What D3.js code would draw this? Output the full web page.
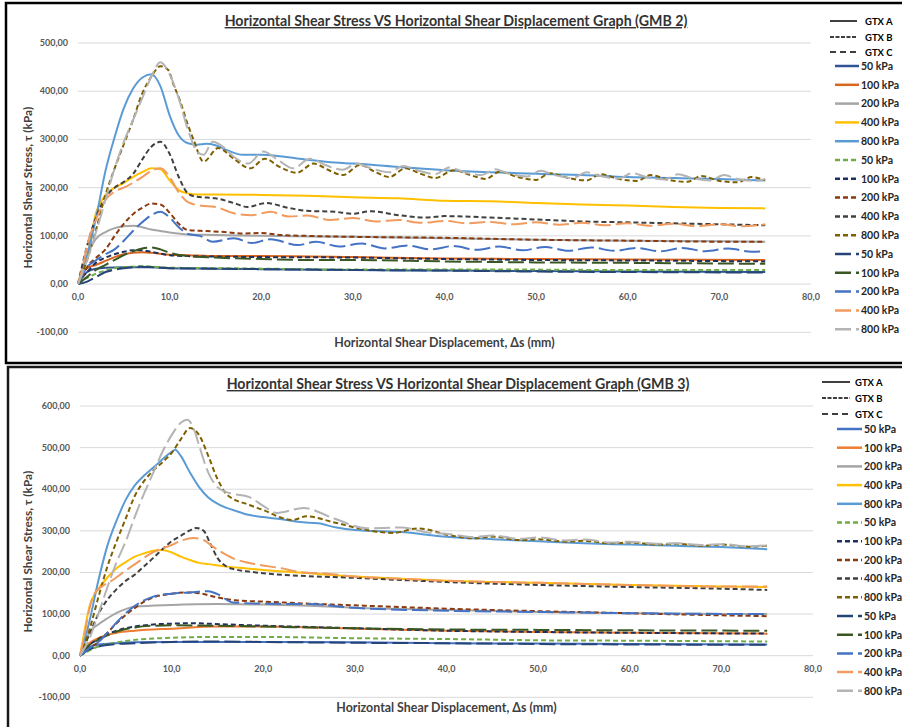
<!DOCTYPE html>
<html>
<head>
<meta charset="utf-8">
<script src="https://cdn.jsdelivr.net/npm/d3@7"></script>
<style>
  body { margin: 0; background: #fff; }
  text { font-family: Lato, "Open Sans", sans-serif; }
</style>
</head>
<body>
<div id="plot"></div>
<script>
// categories
const gtxNames = ["GTX A", "GTX B", "GTX C"];
const pressures = ["50 kPa", "100 kPa", "200 kPa", "400 kPa", "800 kPa"];
const xTicks = [0, 10, 20, 30, 40, 50, 60, 70, 80];
const yTicks2 = [-100, 0, 100, 200, 300, 400, 500];
const yTicks3 = [-100, 0, 100, 200, 300, 400, 500, 600];

// ---- GMB 2 : [displacement mm, stress kPa] ----
const gmb2A50 = [[0,0],[0.5,15],[1,25],[2,32],[3,34],[5,35],[8,35],[10,33],[15,32],[20,31],[30,29],[40,28],[50,27],[60,26],[75,25]];
const gmb2A100 = [[0,0],[0.5,25],[1,33],[2,40],[3,48],[4,56],[5,62],[6,65],[7,66],[8,65],[10,61],[12,60],[15,58],[20,58],[30,56],[40,53],[50,52],[60,51],[75,50]];
const gmb2A200 = [[0,0],[0.5,35],[1,60],[2,95],[3,108],[4,116],[5,120],[6,121],[7,118],[8,113],[9,110],[10,107],[12,103],[15,102],[20,100],[30,98],[40,95],[50,92],[60,90],[75,88]];
const gmb2A400 = [[0,0],[0.5,30],[1,60],[2,150],[3,185],[4,200],[5,210],[6,222],[7,232],[8,240],[9,238],[10,215],[11,195],[12,188],[13,186],[15,186],[20,185],[25,183],[30,180],[35,178],[40,173],[45,172],[50,168],[55,165],[60,163],[65,160],[70,158],[75,157]];
const gmb2A800 = [[0,0],[1,60],[2,140],[3,235],[4,305],[5,365],[6,405],[7,428],[8,435],[9,410],[10,350],[11,308],[12,292],[13,289],[14,291],[15,288],[16,280],[18,268],[20,268],[22,265],[25,258],[28,252],[30,250],[35,243],[40,236],[45,232],[50,229],[55,226],[60,222],[65,220],[70,218],[75,215]];
const gmb2B50 = [[0,0],[0.5,8],[1,13],[2,22],[3,28],[4,33],[5,35],[7,37],[10,34],[15,33],[20,32],[30,30],[40,30],[50,30],[60,29],[75,29]];
const gmb2B100 = [[0,0],[0.5,15],[1,25],[2,45],[3,55],[4,62],[5,67],[6,70],[7,70],[8,67],[10,60],[12,58],[15,57],[20,56],[30,55],[40,52],[50,50],[60,49],[75,47]];
const gmb2B200 = [[0,0],[0.5,15],[1,35],[2,55],[3,72],[4,100],[5,125],[6,145],[7,158],[8,167],[9,165],[10,148],[11,125],[12,112],[14,110],[16,108],[18,105],[20,106],[22,102],[25,100],[30,98],[40,96],[50,92],[60,90],[70,88],[75,88]];
const gmb2B400 = [[0,0],[1,80],[2,140],[3,180],[4,200],[5,212],[6,228],[7,258],[8,285],[9,295],[10,270],[11,222],[12,188],[13,181],[15,178],[17,168],[18.5,160],[20.5,168],[23,158],[25,152],[28,150],[30,146],[32,151],[35,143],[38,138],[40,141],[45,138],[50,134],[55,130],[60,128],[65,126],[70,124],[75,122]];
const gmb2B800 = [[0,0],[1,50],[2,115],[3,185],[4,240],[5,290],[6,340],[7,395],[8,430],[9,452],[9.8,445],[10.5,410],[11.1,382],[12,330],[12.6,300],[13.7,254],[15.3,282],[17,260],[18.8,240],[20.4,260],[22,243],[23.9,231],[25.7,250],[27.5,235],[28.9,226],[30.8,247],[32.5,232],[34,222],[35.7,240],[37.5,228],[39,220],[41,236],[43,225],[44.5,218],[46,233],[48,222],[50,216],[51.5,230],[53.5,220],[55.5,215],[57,228],[59,218],[61,214],[62.5,226],[64.5,216],[66.5,212],[68,224],[70,214],[72,211],[73.5,222],[75,215]];
const gmb2C50 = [[0,0],[1,5],[2,15],[3,25],[4,30],[5,33],[6,35],[7,36],[10,33],[15,32],[25,30],[40,28],[50,26],[60,25],[75,24]];
const gmb2C100 = [[0,0],[1,15],[2,30],[3,40],[4,50],[5,60],[6,68],[7,74],[8,76],[9,72],[10,65],[12,58],[15,55],[20,52],[25,50],[30,50],[40,47],[50,45],[60,44],[75,42]];
const gmb2C200 = [[0,0],[1,35],[2,50],[3,62],[4,72],[5,90],[6,110],[7,128],[8,143],[9,150],[10,138],[11,118],[12,104],[13.3,100],[14.7,88],[17,95],[19,85],[21,93],[24,81],[26,88],[28.5,78],[31,84],[33.5,74],[36,80],[38.5,72],[41,79],[43.5,71],[46,78],[48.5,70],[51,77],[53.5,69],[56,76],[58.5,69],[61,75],[63.5,68],[66,75],[68.5,68],[71,74],[73.5,67],[75,68]];
const gmb2C400 = [[0,0],[0.5,35],[1,80],[2,135],[3,175],[4,192],[5,200],[6,210],[7,222],[8,235],[9,240],[10,222],[11,190],[12,170],[13.3,163],[15,160],[17,147],[19,143],[21,150],[23,140],[25,142],[27.5,133],[30,137],[32.5,130],[35,133],[37.5,127],[40,131],[42.5,126],[45,129],[47.5,124],[50,128],[52.5,123],[55,127],[57.5,122],[60,126],[62.5,121],[65,125],[67.5,120],[70,124],[72.5,120],[75,124]];
const gmb2C800 = [[0,0],[1,50],[2,110],[3,175],[4,240],[5,295],[6,340],[7,385],[8,430],[9,460],[10,435],[11,385],[12,320],[13,275],[13.7,268],[14.7,295],[16,282],[17,264],[18.6,250],[20.2,275],[22,255],[23.5,240],[25.3,260],[27,247],[28.9,237],[30.4,250],[32,240],[34,232],[35.5,245],[37,236],[39,228],[40.5,242],[42,233],[44,226],[45.5,238],[47,229],[49,223],[50.5,235],[52,226],[54,220],[55.5,232],[57,224],[59,219],[60.5,230],[62,222],[64,217],[65.5,228],[67,220],[69,215],[70.5,226],[72,218],[74,214],[75,218]];

// ---- GMB 3 ----
const gmb3A50 = [[0,0],[0.5,12],[1,20],[2,27],[4,30],[6,32],[10,33],[20,33],[30,32],[40,30],[50,29],[60,28],[75,27]];
const gmb3A100 = [[0,0],[0.5,18],[1,30],[2,42],[4,55],[6,60],[10,65],[15,70],[20,70],[30,65],[40,60],[50,57],[60,55],[75,53]];
const gmb3A200 = [[0,0],[0.5,30],[1,55],[2,75],[3,90],[4,103],[5,112],[6,118],[10,122],[15,124],[20,123],[25,120],[30,115],[40,110],[50,105],[60,102],[75,100]];
const gmb3A400 = [[0,0],[0.5,60],[1,115],[2,160],[3,188],[4,210],[5,225],[6,238],[7,246],[8,252],[9,254],[10,248],[11,238],[12,230],[13,223],[14,220],[16,214],[18,210],[20,206],[25,198],[30,190],[35,185],[40,180],[50,175],[60,170],[70,166],[75,165]];
const gmb3A800 = [[0,0],[1,80],[2,180],[3,265],[4,325],[5,375],[6,410],[7,433],[8,452],[9,472],[10,490],[10.4,495],[11,480],[12,440],[13,405],[14,380],[15.3,362],[17,348],[18.5,338],[20,333],[22,328],[24,321],[26,318],[28,308],[30,302],[35,297],[40,286],[45,280],[50,275],[55,270],[60,267],[65,264],[70,261],[75,256]];
const gmb3B50 = [[0,0],[0.5,6],[1,12],[2,22],[4,32],[6,38],[10,43],[15,45],[20,45],[30,42],[40,40],[50,37],[60,36],[75,34]];
const gmb3B100 = [[0,0],[0.5,12],[1,25],[2,40],[3,52],[4,60],[5,66],[6,70],[8,75],[10,77],[12,78],[16,75],[20,72],[30,66],[40,60],[50,57],[60,55],[75,53]];
const gmb3B200 = [[0,0],[0.5,9],[1,18],[2,33],[3,55],[4,78],[5,98],[6,115],[7,130],[8,140],[10,149],[11.5,152],[13,150],[15,140],[17,133],[20,130],[25,125],[30,121],[40,113],[50,107],[60,102],[70,97],[75,95]];
const gmb3B400 = [[0,0],[1,50],[2,100],[3,135],[4,160],[5,180],[6,195],[7,215],[8,235],[9,256],[10,275],[11,288],[12,301],[12.7,307],[13.5,300],[14.2,270],[15,235],[16,214],[17,207],[18.5,202],[20,198],[24,192],[30,187],[35,182],[40,177],[50,170],[60,165],[70,161],[75,158]];
const gmb3B800 = [[0,0],[1,60],[2,140],[3,215],[4,275],[5,330],[6,385],[7,420],[8,445],[9,465],[10,487],[11,520],[12,547],[13,530],[14,480],[15,425],[16,388],[18.5,362],[20,350],[22.2,330],[23.2,326],[24.7,335],[27.6,321],[31.3,302],[34.2,295],[36.9,306],[40.4,289],[43,282],[45,286],[48,278],[50,280],[53,274],[55,276],[58,270],[60,272],[63,267],[65,269],[68,264],[70,267],[73,262],[75,264]];
const gmb3C50 = [[0,0],[0.5,8],[1,15],[2,22],[4,28],[6,30],[10,33],[15,34],[20,33],[30,31],[40,30],[50,28],[60,27],[75,26]];
const gmb3C100 = [[0,0],[0.5,12],[1,25],[2,38],[4,58],[6,68],[8,72],[10,73],[15,72],[20,70],[30,66],[40,63],[50,62],[60,61],[75,60]];
const gmb3C200 = [[0,0],[0.5,9],[1,18],[2,33],[3,55],[4,80],[5,102],[6,120],[7,133],[8,142],[10,149],[12,152],[14,155],[15,148],[16.7,128],[20,125],[25,124],[30,115],[40,108],[50,105],[60,102],[75,100]];
const gmb3C400 = [[0,0],[0.4,40],[1,110],[1.5,146],[2.5,168],[3.3,178],[5,205],[6,220],[8,249],[10,266],[11,276],[12.4,283],[13.5,278],[14.5,262],[15.5,248],[16.7,234],[18,225],[19.6,218],[22,210],[24,201],[27,197],[30,190],[35,185],[40,180],[50,175],[60,170],[70,166],[75,166]];
const gmb3C800 = [[0,0],[1,40],[2,100],[3,165],[4,225],[5,275],[6,335],[7,390],[8,440],[9,490],[10,530],[11,560],[11.7,567],[12.5,540],[13,505],[14,440],[15,405],[16,393],[18.5,381],[20,360],[21.5,343],[24.4,355],[27.6,331],[31.3,306],[35,308],[38,296],[40.4,292],[43,285],[45,289],[48,281],[50,284],[53,277],[55,279],[58,272],[60,274],[63,269],[65,270],[68,266],[70,268],[73,263],[75,265]];

const gmb2Series = [gmb2A50, gmb2A100, gmb2A200, gmb2A400, gmb2A800,
                    gmb2B50, gmb2B100, gmb2B200, gmb2B400, gmb2B800,
                    gmb2C50, gmb2C100, gmb2C200, gmb2C400, gmb2C800];
const gmb3Series = [gmb3A50, gmb3A100, gmb3A200, gmb3A400, gmb3A800,
                    gmb3B50, gmb3B100, gmb3B200, gmb3B400, gmb3B800,
                    gmb3C50, gmb3C100, gmb3C200, gmb3C400, gmb3C800];

const colors2 = ["#2F5597", "#D9661F", "#A5A5A5", "#FFC000", "#5B9BD5",
                 "#70AD47", "#1F2F5F", "#8B3A0F", "#404040", "#7F6000",
                 "#264478", "#385723", "#4472C4", "#F19B5F", "#B4B4B4"];
const colors3 = ["#4472C4", "#ED7D31", "#A5A5A5", "#FFC000", "#5B9BD5",
                 "#70AD47", "#1F2F5F", "#8B3A0F", "#404040", "#7F6000",
                 "#264478", "#385723", "#4472C4", "#F19B5F", "#B4B4B4"];
const dashes = [null, "5,3", "16,5"];

const W = 902, H = 727;
const svg = d3.select("#plot").append("svg").attr("width", W).attr("height", H);

const fmtY = v => v.toFixed(2).replace(".", ",");
const fmtX = v => v.toFixed(1).replace(".", ",");

function drawChart(cfg) {
  const g = svg.append("g");

  g.append("rect")
    .attr("x", cfg.frame[0]).attr("y", cfg.frame[1])
    .attr("width", 940).attr("height", cfg.frame[2])
    .attr("fill", "none").attr("stroke", cfg.frameColor).attr("stroke-width", 2.5);

  const x = d3.scaleLinear().domain([0, 80]).range(cfg.xRange);
  const y = d3.scaleLinear().domain([cfg.yTicks[0], cfg.yTicks[cfg.yTicks.length - 1]]).range(cfg.yRange);

  g.selectAll(".grid").data(cfg.yTicks).join("line")
    .attr("x1", cfg.xRange[0]).attr("x2", cfg.xRange[1])
    .attr("y1", d => y(d)).attr("y2", d => y(d))
    .attr("stroke", "#D9D9D9").attr("stroke-width", 1);

  g.selectAll(".ylab").data(cfg.yTicks).join("text")
    .attr("x", cfg.xRange[0] - 10).attr("y", d => y(d) + 3)
    .attr("text-anchor", "end")
    .style("font-size", "9px").style("font-weight", 700).attr("fill", "#595959")
    .text(fmtY);

  g.selectAll(".xlab").data(xTicks).join("text")
    .attr("x", d => x(d)).attr("y", y(0) + 16)
    .attr("text-anchor", "middle")
    .style("font-size", "9px").style("font-weight", 700).attr("fill", "#595959")
    .text(fmtX);

  const line = d3.line().x(d => x(d[0])).y(d => y(d[1])).curve(d3.curveMonotoneX);

  cfg.series.forEach((s, i) => {
    g.append("path")
      .attr("d", line(s))
      .attr("fill", "none")
      .attr("stroke", cfg.colors[i])
      .attr("stroke-width", 2)
      .attr("stroke-dasharray", dashes[Math.floor(i / 5)]);
  });

  g.append("text")
    .attr("x", cfg.titlePos[0]).attr("y", cfg.titlePos[1])
    .attr("text-anchor", "middle")
    .style("font-size", "14.2px").style("font-weight", 700)
    .style("text-decoration", "underline")
    .attr("fill", "#333")
    .text(cfg.title);

  const midY = (cfg.yRange[0] + cfg.yRange[1]) / 2;
  g.append("text")
    .attr("transform", `translate(32,${midY}) rotate(-90)`)
    .attr("text-anchor", "middle")
    .style("font-size", "11.8px").style("font-weight", 700).attr("fill", "#404040")
    .text("Horizontal Shear Stress, τ (kPa)");

  g.append("text")
    .attr("x", (cfg.xRange[0] + cfg.xRange[1]) / 2).attr("y", cfg.xTitleY)
    .attr("text-anchor", "middle")
    .style("font-size", "12.4px").style("font-weight", 700).attr("fill", "#404040")
    .text("Horizontal Shear Displacement, Δs (mm)");

  // legend: line styles
  const lg = cfg.legend;
  gtxNames.forEach((n, i) => {
    const yy = lg.headY[i];
    g.append("line")
      .attr("x1", lg.headX[0]).attr("x2", lg.headX[1])
      .attr("y1", yy).attr("y2", yy)
      .attr("stroke", "#000").attr("stroke-width", 1.5)
      .attr("stroke-dasharray", [null, "4,1.5", "6,4"][i]);
    g.append("text")
      .attr("x", lg.headX[2]).attr("y", yy + 3.5)
      .style("font-size", "9.5px").style("font-weight", 700).attr("fill", "#000")
      .text(n);
  });

  // legend: series
  cfg.series.forEach((s, i) => {
    const yy = lg.y0 + i * lg.step;
    g.append("line")
      .attr("x1", lg.itemX[0]).attr("x2", lg.itemX[1])
      .attr("y1", yy).attr("y2", yy)
      .attr("stroke", cfg.colors[i]).attr("stroke-width", 2.5)
      .attr("stroke-dasharray", dashes[Math.floor(i / 5)]);
    g.append("text")
      .attr("x", lg.itemX[2]).attr("y", yy + 3.8)
      .style("font-size", "10.5px").style("font-weight", 700).attr("fill", "#262626")
      .text(pressures[i % 5]);
  });
}

drawChart({
  frame: [6, 3, 360], frameColor: "#000",
  xRange: [78, 811], yRange: [332.3, 43], yTicks: yTicks2,
  series: gmb2Series, colors: colors2,
  title: "Horizontal Shear Stress VS Horizontal Shear Displacement Graph (GMB 2)",
  titlePos: [456, 26], xTitleY: 347,
  legend: { headY: [21, 37, 52], headX: [830, 857, 865], y0: 66, step: 18.8, itemX: [835, 859, 861] }
});

drawChart({
  frame: [8, 367, 380], frameColor: "#1a1a1a",
  xRange: [80, 813], yRange: [697.3, 406], yTicks: yTicks3,
  series: gmb3Series, colors: colors3,
  title: "Horizontal Shear Stress VS Horizontal Shear Displacement Graph (GMB 3)",
  titlePos: [458, 389], xTitleY: 712,
  legend: { headY: [382, 398, 414], headX: [822, 850, 855], y0: 429, step: 18.7, itemX: [837, 862, 864] }
});
</script>
</body>
</html>
